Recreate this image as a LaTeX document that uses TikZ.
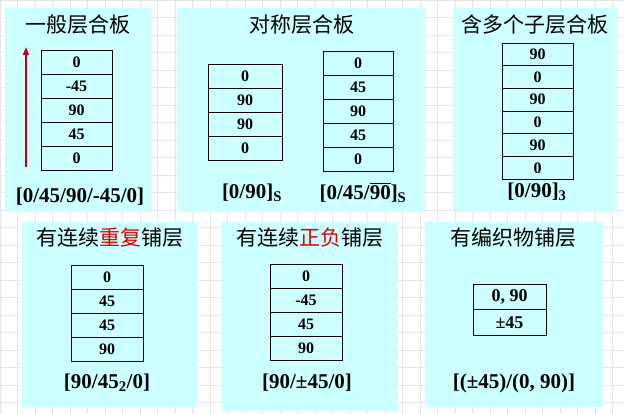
\documentclass[tikz,border=0pt]{standalone}
\usepackage{fontspec}
\setmainfont{Liberation Serif}
\newfontfamily\cjk{Noto Sans CJK SC}
\usetikzlibrary{positioning,arrows.meta}
\definecolor{panelcyan}{HTML}{CCFFFF}
\definecolor{arrowred}{HTML}{CC0000}
\definecolor{hlred}{HTML}{E00000}
\definecolor{gridgray}{HTML}{E6E6E6}
\newcommand\topbar[1]{\leavevmode\vbox{\hrule height 1.3pt\kern 1.6pt\hbox{#1}}}

\begin{document}
\begin{tikzpicture}[
  x=1pt, y=-1pt,
  panel/.style={fill=panelcyan, inner sep=0pt, outer sep=0pt},
  ply/.style={draw, fill=panelcyan, line width=0.8pt, minimum width=72pt, minimum height=24pt, inner sep=0pt, outer sep=0pt, font=\fontsize{16}{16}\selectfont\bfseries},
  wideply/.style={ply, minimum width=73pt, minimum height=25.5pt, font=\fontsize{18}{18}\selectfont\bfseries},
  title/.style={font=\cjk\fontsize{21}{21}\selectfont},
  code/.style={font=\fontsize{21}{24}\selectfont\bfseries},
  uparrow/.style={-{Triangle[length=8pt, width=6pt]}, line width=1.8pt, color=arrowred},
]
\useasboundingbox (0,0) rectangle (624,414);
\draw[step=17.5pt, gridgray, line width=0.5pt] (0,0) grid (624,414);

% panels
\node[panel, minimum width=147pt, minimum height=204pt] (pgen) at (78.5,110) {};
\node[panel, minimum width=248pt, minimum height=204pt] (psym) at (301,110) {};
\node[panel, minimum width=164pt, minimum height=204pt] (psub) at (535,110) {};
\node[panel, minimum width=176pt, minimum height=185pt] (prep) at (110,314.5) {};
\node[panel, minimum width=176pt, minimum height=189pt] (ppm) at (310,316.5) {};
\node[panel, minimum width=178pt, minimum height=185pt] (pwov) at (514,314.5) {};

% titles
\node[title] (tgen) at (78,25) {一般层合板};
\node[title] (tsym) at (302,25) {对称层合板};
\node[title] (tsub) at (535,25) {含多个子层合板};
\node[title] (trep) at (110,238) {有连续\textcolor{hlred}{重复}铺层};
\node[title] (tpm) at (310,238) {有连续\textcolor{hlred}{正负}铺层};
\node[title] (twov) at (513,238) {有编织物铺层};

% general laminate
\node[ply, minimum width=71pt] (g1) at (76.5,62) {0};
\node[ply, minimum width=71pt] (g2) at (76.5,86) {-45};
\node[ply, minimum width=71pt] (g3) at (76.5,110) {90};
\node[ply, minimum width=71pt] (g4) at (76.5,134) {45};
\node[ply, minimum width=71pt] (g5) at (76.5,158) {0};
\coordinate (arrbot) at (26,167);
\coordinate (arrtop) at (26,47);
\draw[uparrow] (arrbot) -- (arrtop);
\node[code] (cgen) at (80,197) {[0/45/90/-45/0]};

% symmetric laminates
\node[ply, minimum width=74pt] (sa1) at (245,76) {0};
\node[ply, minimum width=74pt] (sa2) at (245,100) {90};
\node[ply, minimum width=74pt] (sa3) at (245,124) {90};
\node[ply, minimum width=74pt] (sa4) at (245,148) {0};
\node[code] (csa) at (252,193) {[0/90]\textsubscript{S}};
\node[ply, minimum width=70pt] (sb1) at (358,63) {0};
\node[ply, minimum width=70pt] (sb2) at (358,87) {45};
\node[ply, minimum width=70pt] (sb3) at (358,111) {90};
\node[ply, minimum width=70pt] (sb4) at (358,135) {45};
\node[ply, minimum width=70pt] (sb5) at (358,159) {0};
\node[code] (csb) at (363,193) {[0/45/\topbar{90}]\textsubscript{S}};

% sub-laminates
\node[ply, minimum width=71pt, minimum height=22.7pt] (u1) at (537.5,54.3) {90};
\node[ply, minimum width=71pt, minimum height=22.7pt] (u2) at (537.5,77) {0};
\node[ply, minimum width=71pt, minimum height=22.7pt] (u3) at (537.5,99.7) {90};
\node[ply, minimum width=71pt, minimum height=22.7pt] (u4) at (537.5,122.4) {0};
\node[ply, minimum width=71pt, minimum height=22.7pt] (u5) at (537.5,145.1) {90};
\node[ply, minimum width=71pt, minimum height=22.7pt] (u6) at (537.5,167.8) {0};
\node[code] (csub) at (537,192) {[0/90]\textsubscript{3}};

% repeated plies
\node[ply] (r1) at (107,277) {0};
\node[ply] (r2) at (107,301) {45};
\node[ply] (r3) at (107,325) {45};
\node[ply] (r4) at (107,349) {90};
\node[code] (crep) at (107,383) {[90/45\textsubscript{2}/0]};

% plus-minus plies
\node[ply] (m1) at (306,276) {0};
\node[ply] (m2) at (306,300) {-45};
\node[ply] (m3) at (306,324) {45};
\node[ply] (m4) at (306,348) {90};
\node[code] (cpm) at (307,383) {[90/±45/0]};

% woven plies
\node[wideply] (w1) at (509.5,296.75) {0, 90};
\node[wideply] (w2) at (509.5,322.25) {±45};
\node[code] (cwov) at (514,383) {[(±45)/(0, 90)]};
\end{tikzpicture}
\end{document}
